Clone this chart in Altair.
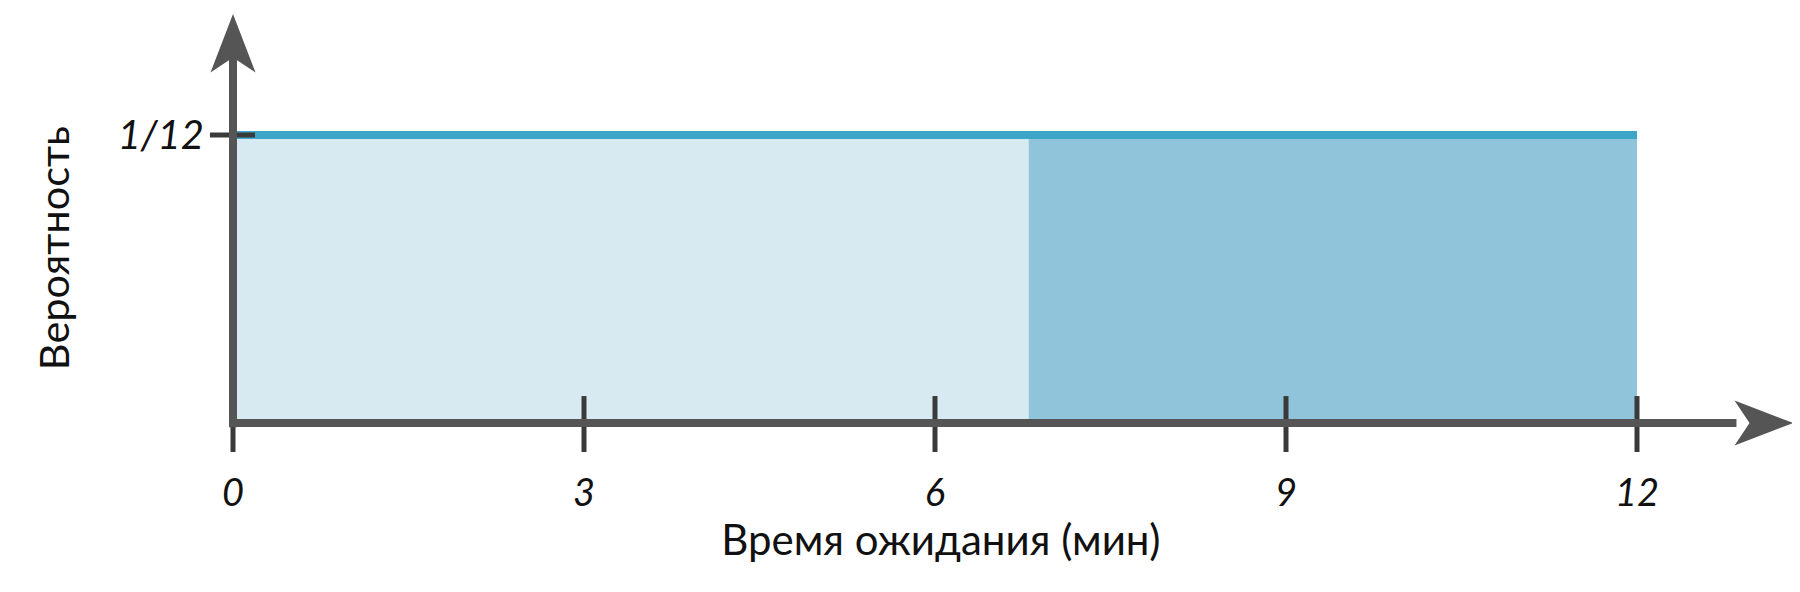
import altair as alt
import pandas as pd

# ---- data ----
x_ticks = [0, 3, 6, 9, 12]
x_tick_labels = ["0", "3", "6", "9", "12"]
prob = 1 / 12
y_tick_labels = ["1/12"]
x_start, x_split, x_end = 0, 6.8, 12
x_title = "Время ожидания (мин)"
y_title = "Вероятность"

AX = "#555555"
TICK = "#3a3a3a"
LIGHT = "#d8eaf1"
DARK = "#90c4da"
LINE = "#3ca5c8"
FONT = "Lato"

W, H = 1784, 576
xs = alt.Scale(domain=[0, 12], range=[225, 1629], nice=False, zero=False)
ys = alt.Scale(domain=[0, prob], range=[415, 127], nice=False, zero=False)

def X(f):
    return alt.X(f, type="quantitative", scale=xs, axis=None)

def Y(f):
    return alt.Y(f, type="quantitative", scale=ys, axis=None)

fills = pd.DataFrame({
    "x0": [x_start, x_split], "x1": [x_split, x_end],
    "y0": [0, 0], "y1": [prob, prob], "part": ["low", "high"],
})
rects = alt.Chart(fills).mark_rect(strokeWidth=0).encode(
    x=X("x0"), x2="x1", y=Y("y0"), y2="y1",
    color=alt.Color("part:N", scale=alt.Scale(domain=["low", "high"], range=[LIGHT, DARK]), legend=None),
)

top = alt.Chart(pd.DataFrame({"x0": [x_start], "x1": [x_end], "y": [prob]})).mark_rule(
    color=LINE, strokeWidth=8
).encode(x=X("x0"), x2="x1", y=Y("y"))

# axis lines
yaxis = alt.Chart(pd.DataFrame({"x": [0], "y0": [-0.0012], "y1": [0.106]})).mark_rule(
    color=AX, strokeWidth=8
).encode(x=X("x"), y=Y("y0"), y2="y1")
xaxis = alt.Chart(pd.DataFrame({"x0": [-0.03], "x1": [12.85], "y": [0]})).mark_rule(
    color=AX, strokeWidth=8
).encode(x=X("x0"), x2="x1", y=Y("y"))

# arrow heads
up = alt.Chart(pd.DataFrame({"x": [0], "y": [0.1097]})).mark_point(
    shape="M0,-1L0.75,0.95L0,0.45L-0.75,0.95Z", filled=True, size=3600, color=AX, opacity=1, strokeWidth=0
).encode(x=X("x"), y=Y("y"))
right = alt.Chart(pd.DataFrame({"x": [13.077], "y": [0]})).mark_point(
    shape="M1,0L-0.95,0.75L-0.45,0L-0.95,-0.75Z", filled=True, size=3600, color=AX, opacity=1, strokeWidth=0
).encode(x=X("x"), y=Y("y"))

# ticks
xt = pd.DataFrame({"x": x_ticks, "y0": [-0.0084] * 5, "y1": [0.0078] * 5, "lab": x_tick_labels})
xtick = alt.Chart(xt).mark_rule(color=TICK, strokeWidth=5).encode(x=X("x"), y=Y("y0"), y2="y1")
xlab = alt.Chart(xt.assign(ly=-0.0208)).mark_text(
    font=FONT, fontStyle="italic", fontSize=38, color="#111111", baseline="middle", align="center"
).encode(x=X("x"), y=Y("ly"), text="lab:N")

yt = pd.DataFrame({"x0": [-0.197], "x1": [0.188], "y": [prob], "lab": y_tick_labels, "lx": [-0.248]})
ytick = alt.Chart(yt).mark_rule(color=TICK, strokeWidth=5).encode(x=X("x0"), x2="x1", y=Y("y"))
ylab = alt.Chart(yt).mark_text(
    font=FONT, fontStyle="italic", fontSize=40, color="#111111", baseline="middle", align="right", dy=2
).encode(x=X("lx"), y=Y("y"), text="lab:N")

# titles
xt_df = pd.DataFrame({"x": [6.05], "y": [-0.0344], "t": [x_title]})
xtitle = alt.Chart(xt_df).mark_text(
    font=FONT, fontSize=42, color="#111111", baseline="middle", align="center"
).encode(x=X("x"), y=Y("y"), text="t:N")
yt_df = pd.DataFrame({"x": [-1.504], "y": [0.0506], "t": [y_title]})
ytitle = alt.Chart(yt_df).mark_text(
    font=FONT, fontSize=41.5, color="#111111", baseline="middle", align="center", angle=270
).encode(x=X("x"), y=Y("y"), text="t:N")

chart = alt.layer(
    rects, top, xtick, ytick, yaxis, xaxis, up, right, xlab, ylab, xtitle, ytitle
).properties(
    width=W, height=H, padding=0, autosize=alt.AutoSizeParams(type="none"), background="white"
).configure_view(stroke=None)

chart.save("out.html", embed_options={"renderer": "svg", "actions": False})
